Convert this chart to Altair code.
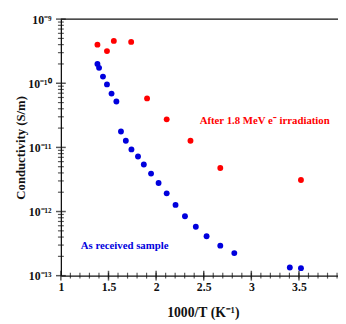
import altair as alt
import pandas as pd

# Data
blue_x = [1.384, 1.401, 1.442, 1.484, 1.532, 1.583, 1.631, 1.682, 1.741, 1.810, 1.871,
          1.947, 2.026, 2.111, 2.204, 2.303, 2.417, 2.530, 2.674, 2.821, 3.404, 3.521]
blue_y = [2.0e-10, 1.74e-10, 1.27e-10, 9.6e-11, 6.9e-11, 5.2e-11, 1.77e-11, 1.27e-11,
          9.3e-12, 7.2e-12, 5.4e-12, 3.9e-12, 2.79e-12, 1.92e-12, 1.27e-12, 8.45e-13,
          5.8e-13, 4.12e-13, 2.94e-13, 2.25e-13, 1.34e-13, 1.31e-13]
red_x = [1.384, 1.484, 1.556, 1.738, 1.905, 2.111, 2.361, 2.674, 3.521]
red_y = [4.0e-10, 3.17e-10, 4.57e-10, 4.41e-10, 5.8e-11, 2.74e-11, 1.27e-11, 4.78e-12, 3.1e-12]

x_major = [1, 1.5, 2, 2.5, 3, 3.5]
x_minor = [round(1 + 0.1 * i, 1) for i in range(1, 30)]
y_major = [1e-13, 1e-12, 1e-11, 1e-10, 1e-9]
y_major_labels = ["10⁻¹³", "10⁻¹²", "10⁻¹¹", "10⁻¹⁰", "10⁻⁹"]
y_minor = [m * d for d in [1e-13, 1e-12, 1e-11, 1e-10] for m in range(2, 10)]

ann_text = ["After 1.8 MeV e⁻ irradiation", "As received sample"]
ann_x = [3.14, 1.669]
ann_y = [2.58e-11, 2.87e-13]

W, H = 283, 262
BLUE = "#0000dd"
RED = "#ff0000"
AXC = "#111111"
FONT = "Liberation Serif"

blue_df = pd.DataFrame({"x": blue_x, "y": blue_y})
red_df = pd.DataFrame({"x": red_x, "y": red_y})
ann1 = pd.DataFrame({"x": [ann_x[0]], "y": [ann_y[0]], "t": [ann_text[0]]})
ann2 = pd.DataFrame({"x": [ann_x[1]], "y": [ann_y[1]], "t": [ann_text[1]]})
xmaj_df = pd.DataFrame({"x": x_major})
xmin_df = pd.DataFrame({"x": x_minor})
ymaj_df = pd.DataFrame({"y": y_major})
ymin_df = pd.DataFrame({"y": y_minor})
top_df = pd.DataFrame({"x": [1.0], "x2": [3.91], "y": [1e-9]})

xscale = alt.Scale(domain=[1, 3.91], nice=False, zero=False)
yscale = alt.Scale(type="log", domain=[1e-13, 1e-9], nice=False)

label_expr = " : ".join(
    f"datum.value == {v!r} ? '{l}'" for v, l in zip(y_major, y_major_labels)
) + " : ''"

x_main = alt.Axis(values=x_major, orient="bottom", ticks=False, domain=True,
                  domainColor=AXC, domainWidth=1.3, labels=True, format="~g",
                  labelFont=FONT, labelFontWeight="bold", labelFontSize=12,
                  labelColor="#111", labelPadding=6, grid=False,
                  title="1000/T  (K⁻¹)", titleFont=FONT, titleFontWeight="bold",
                  titleFontSize=14, titleColor="#111", titleX=145, titleY=38,
                  titleBaseline="middle", labelFlush=False)
y_main = alt.Axis(values=y_major, orient="left", ticks=False, domain=True,
                  domainColor=AXC, domainWidth=1.3, labels=True, labelExpr=label_expr,
                  labelFont=FONT, labelFontWeight="bold", labelFontSize=12,
                  labelColor="#111", labelPadding=10, grid=False,
                  title="Conductivity (S/m)", titleFont=FONT, titleFontWeight="bold",
                  titleFontSize=13, titleColor="#111", titleX=-41, titleY=131,
                  titleAngle=270, titleBaseline="middle", labelFlush=False)

blue = alt.Chart(blue_df).mark_point(filled=True, size=36, color=BLUE, opacity=1).encode(
    x=alt.X("x:Q", scale=xscale, axis=x_main),
    y=alt.Y("y:Q", scale=yscale, axis=y_main),
)
red = alt.Chart(red_df).mark_point(filled=True, size=36, color=RED, opacity=1).encode(
    x=alt.X("x:Q", scale=xscale),
    y=alt.Y("y:Q", scale=yscale),
)
t1 = alt.Chart(ann1).mark_text(font=FONT, fontWeight="bold", fontSize=11, color=RED).encode(
    x=alt.X("x:Q", scale=xscale),
    y=alt.Y("y:Q", scale=yscale),
    text="t:N",
)
t2 = alt.Chart(ann2).mark_text(font=FONT, fontWeight="bold", fontSize=11, color=BLUE).encode(
    x=alt.X("x:Q", scale=xscale),
    y=alt.Y("y:Q", scale=yscale),
    text="t:N",
)

# Inward tick marks drawn as tick marks positioned by the shared scales
xt_major = alt.Chart(xmaj_df).mark_tick(color=AXC, thickness=1.5, size=10, orient="vertical").encode(
    x=alt.X("x:Q", scale=xscale), y=alt.value(H))
xt_minor = alt.Chart(xmin_df).mark_tick(color=AXC, thickness=1.2, size=6, orient="vertical").encode(
    x=alt.X("x:Q", scale=xscale), y=alt.value(H))
yt_major = alt.Chart(ymaj_df).mark_tick(color=AXC, thickness=1.5, size=10, orient="horizontal").encode(
    y=alt.Y("y:Q", scale=yscale), x=alt.value(0))
yt_minor = alt.Chart(ymin_df).mark_tick(color=AXC, thickness=1.2, size=6, orient="horizontal").encode(
    y=alt.Y("y:Q", scale=yscale), x=alt.value(0))
# Top frame line
top = alt.Chart(top_df).mark_rule(color=AXC, strokeWidth=1.5).encode(
    x=alt.X("x:Q", scale=xscale), x2="x2:Q", y=alt.Y("y:Q", scale=yscale))

chart = alt.layer(blue, red, t1, t2, xt_major, xt_minor, yt_major, yt_minor, top).properties(
    width=W, height=H,
    autosize=alt.AutoSizeParams(type="none"),
    padding={"left": 54, "top": 8, "right": 0, "bottom": 46},
).configure_view(stroke=None)

chart.save("out.html", embed_options={"renderer": "svg", "actions": False})
